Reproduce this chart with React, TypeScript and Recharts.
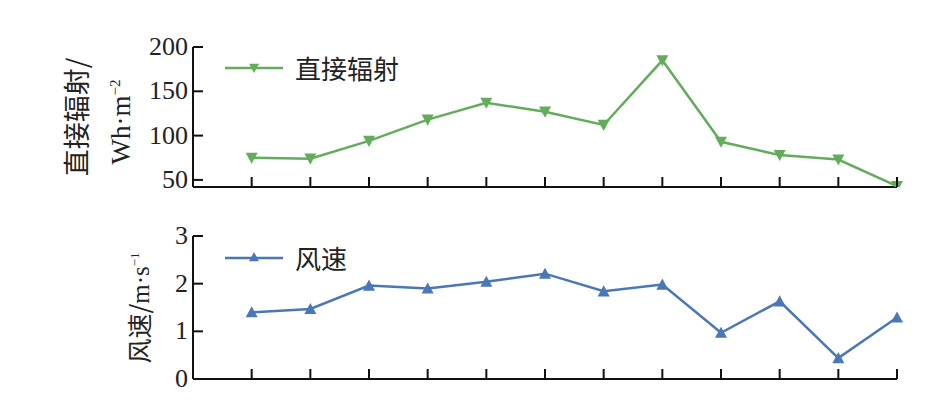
import React from 'react';
import { LineChart, Line, XAxis, YAxis } from 'recharts';

// 12 measurement points, no x labels in the figure
const positions = [1, 2, 3, 4, 5, 6, 7, 8, 9, 10, 11, 12];
const radiation = [75, 74, 94, 118, 137, 127, 112, 185, 93, 78, 73, 43];
const windSpeed = [1.4, 1.47, 1.96, 1.9, 2.04, 2.21, 1.84, 1.98, 0.97, 1.63, 0.44, 1.29];
const radTicks = [50, 100, 150, 200];
const windTicks = [0, 1, 2, 3];

const GREEN = '#62ad5c';
const BLUE = '#4a78b6';
const SERIF = '"Liberation Serif", "Times New Roman", serif';
const CJK = '"Noto Sans CJK SC", sans-serif';

const topData = positions.map((p, i) => ({ x: p, v: radiation[i] }));
const bottomData = positions.map((p, i) => ({ x: p, v: windSpeed[i] }));

const XTick = (props: any) => (
  <line x1={props.x} y1={props.y} x2={props.x} y2={props.y - 10} stroke="#111" strokeWidth={2} />
);

const YTick = (props: any) => (
  <g>
    <line x1={props.x} y1={props.y} x2={props.x + 10} y2={props.y} stroke="#111" strokeWidth={2} />
    <text x={props.x - 5} y={props.y} dy={8} textAnchor="end" fontSize={26} fontFamily={SERIF} fill="#222">
      {props.payload.value}
    </text>
  </g>
);

const triDown = (cx: number, cy: number, s: number) =>
  `M${cx - s},${cy - s * 0.85}L${cx + s},${cy - s * 0.85}L${cx},${cy + s}Z`;
const triUp = (cx: number, cy: number, s: number) =>
  `M${cx - s},${cy + s * 0.85}L${cx + s},${cy + s * 0.85}L${cx},${cy - s}Z`;

const LegendItem = ({ color, up, label }: { color: string; up: boolean; label: string }) => (
  <div style={{ display: 'flex', alignItems: 'center' }}>
    <svg width={62} height={20}>
      <line x1={2} y1={10} x2={60} y2={10} stroke={color} strokeWidth={2.5} />
      <path d={up ? triUp(31, 9, 5) : triDown(31, 10, 5)} fill={color} />
    </svg>
    <span style={{ fontFamily: CJK, fontSize: 26, color: '#222', marginLeft: 10, lineHeight: '30px' }}>{label}</span>
  </div>
);

const App: React.FC = () => {
  return (
    <div style={{ position: 'absolute', left: 0, top: 0, width: 933, height: 406, background: '#fff' }}>
      <div style={{ position: 'absolute', left: 0, top: 0 }}>
        <LineChart width={933} height={200} data={topData} margin={{ top: 47, right: 36, bottom: 0, left: 0 }}>
          <XAxis
            dataKey="x"
            type="number"
            domain={[0, 12]}
            ticks={positions}
            height={13}
            tickSize={0}
            tickMargin={0}
            tickLine={false}
            tick={<XTick />}
            axisLine={{ stroke: '#111', strokeWidth: 2 }}
          />
          <YAxis
            type="number"
            domain={[42, 200]}
            allowDataOverflow
            ticks={radTicks}
            width={193}
            tickSize={0}
            tickMargin={0}
            tickLine={false}
            tick={<YTick />}
            axisLine={{ stroke: '#111', strokeWidth: 2 }}
          />
          <Line
            dataKey="v"
            name="直接辐射"
            stroke={GREEN}
            strokeWidth={2.5}
            isAnimationActive={false}
            dot={(p: any) => <path key={p.index} d={triDown(p.cx, p.cy, 6)} fill={GREEN} />}
            activeDot={false}
          />
        </LineChart>
        <div style={{ position: 'absolute', left: 223, top: 53 }}>
          <LegendItem color={GREEN} up={false} label="直接辐射" />
        </div>
        <div style={{ position: 'absolute', left: 0, top: 0 }}>
          <svg width={180} height={200}>
            <text
              transform="translate(87,117) rotate(-90)"
              textAnchor="middle"
              fontFamily={CJK}
              fontSize={27}
              fill="#222"
            >
              直接辐射/
            </text>
            <text
              transform="translate(130,122) rotate(-90)"
              textAnchor="middle"
              fontFamily={SERIF}
              fontSize={27}
              fill="#222"
            >
              Wh·m<tspan dy={-10} fontSize={15}>−2</tspan>
            </text>
          </svg>
        </div>
      </div>
      <div style={{ position: 'absolute', left: 0, top: 200 }}>
        <LineChart width={933} height={206} data={bottomData} margin={{ top: 36, right: 36, bottom: 0, left: 0 }}>
          <XAxis
            dataKey="x"
            type="number"
            domain={[0, 12]}
            ticks={positions}
            height={27}
            tickSize={0}
            tickMargin={0}
            tickLine={false}
            tick={<XTick />}
            axisLine={{ stroke: '#111', strokeWidth: 2 }}
          />
          <YAxis
            type="number"
            domain={[0, 3]}
            ticks={windTicks}
            width={193}
            tickSize={0}
            tickMargin={0}
            tickLine={false}
            tick={<YTick />}
            axisLine={{ stroke: '#111', strokeWidth: 2 }}
          />
          <Line
            dataKey="v"
            name="风速"
            stroke={BLUE}
            strokeWidth={2.5}
            isAnimationActive={false}
            dot={(p: any) => <path key={p.index} d={triUp(p.cx, p.cy, 6)} fill={BLUE} />}
            activeDot={false}
          />
        </LineChart>
        <div style={{ position: 'absolute', left: 223, top: 43 }}>
          <LegendItem color={BLUE} up label="风速" />
        </div>
        <div style={{ position: 'absolute', left: 0, top: 0 }}>
          <svg width={180} height={206}>
            <text
              transform="translate(149,108) rotate(-90)"
              textAnchor="middle"
              fontFamily={CJK}
              fontSize={25}
              fill="#222"
            >
              风速/<tspan fontFamily={SERIF}>m·s</tspan>
              <tspan fontFamily={SERIF} dy={-10} fontSize={13}>−1</tspan>
            </text>
          </svg>
        </div>
      </div>
    </div>
  );
};

export default App;
